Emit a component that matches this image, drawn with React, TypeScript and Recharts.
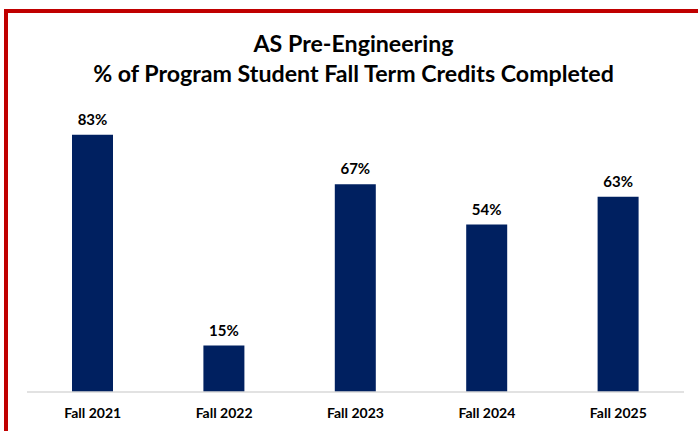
import React from "react";
import { BarChart, Bar, XAxis, YAxis, LabelList } from "recharts";

const categories = ["Fall 2021", "Fall 2022", "Fall 2023", "Fall 2024", "Fall 2025"];
const values = [83, 15, 67, 54, 63];
const titleLines = ["AS Pre-Engineering", "% of Program Student Fall Term Credits Completed"];

const data = categories.map((c, i) => ({ name: c, value: values[i] }));

const FONT = "Lato, 'Open Sans', sans-serif";

export default function App() {
  return (
    <div style={{ position: "absolute", left: 0, top: 0, width: 698, height: 431, overflow: "hidden", background: "#fff", fontFamily: FONT }}>
      <div
        style={{
          position: "absolute",
          left: 4,
          top: 9,
          width: 720,
          height: 460,
          border: "4px solid #c00000",
          boxSizing: "border-box",
        }}
      />
      <svg width={698} height={120} style={{ position: "absolute", left: 0, top: 0 }}>
        {titleLines.map((t, i) => (
          <text
            key={i}
            x={353.5}
            y={52 + i * 30}
            textAnchor="middle"
            fontFamily={FONT}
            fontWeight={700}
            fontSize={23.2}
            fill="#000"
          >
            {t}
          </text>
        ))}
      </svg>
      <div style={{ position: "absolute", left: 0, top: 0 }}>
        <BarChart width={698} height={431} data={data} margin={{ top: 82, right: 14, bottom: 9, left: 27 }} barSize={41}>
          <XAxis
            dataKey="name"
            axisLine={{ stroke: "#d9d9d9", strokeWidth: 1.5 }}
            tickLine={false}
            tickMargin={10}
            tick={{ fill: "#000", fontSize: 14, fontWeight: 700, fontFamily: FONT }}
          />
          <YAxis hide domain={[0, 100]} />
          <Bar dataKey="value" fill="#002060" isAnimationActive={false}>
            <LabelList
              dataKey="value"
              position="top"
              offset={10}
              formatter={(v: any) => `${v}%`}
              style={{ fill: "#000", fontSize: 15, fontWeight: 700, fontFamily: FONT }}
            />
          </Bar>
        </BarChart>
      </div>
    </div>
  );
}
